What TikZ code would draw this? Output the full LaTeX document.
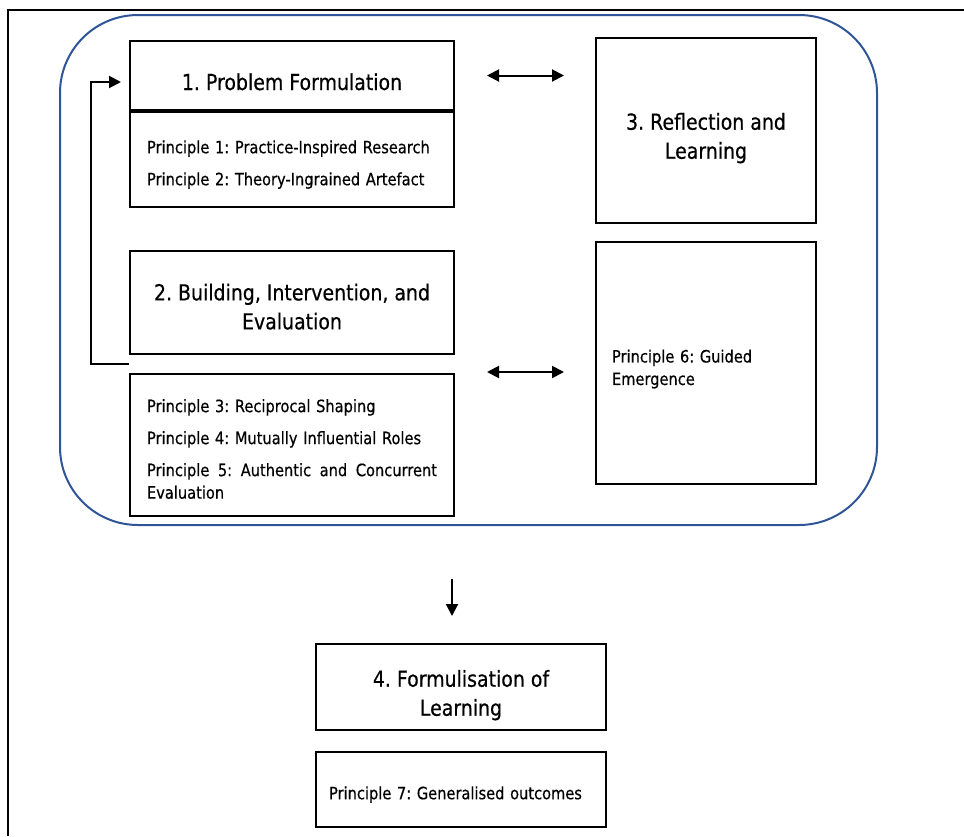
\documentclass[tikz,border=0pt]{standalone}
\usepackage{fontspec}
\setmainfont{DejaVu Sans}[FakeStretch=0.86,FakeBold=0.5]
\usetikzlibrary{arrows.meta,calc}
\definecolor{cycleblue}{RGB}{47,85,151}
\newcommand\hdrfont{\fontsize{22}{29}\selectfont}
\newcommand\prinfont{\fontsize{17}{22.5}\selectfont}
% invisible strut that raises the first line of a box
\newcommand\padtop[1]{\rule{0pt}{#1}}
\frenchspacing
\tikzset{
  frame/.style={line width=2.2pt},
  stage/.style={draw, line width=2pt, inner sep=0pt, font=\hdrfont, align=center},
  prin/.style={draw, line width=2pt, inner sep=0pt, font=\prinfont, align=left},
  flow/.style={line width=2pt, -{Triangle[length=12pt,width=12pt]}},
  both/.style={line width=2pt, {Triangle[length=12pt,width=12pt]}-{Triangle[length=12pt,width=12pt]}},
}
\begin{document}
\begin{tikzpicture}[x=1pt,y=-1pt]
\useasboundingbox (0,0) rectangle (964,836);

% page border
\draw[frame] (8,836) -- (8,10) -- (964,10);

% iterative cycle
\node[draw=cycleblue, line width=2pt, rounded corners=78pt,
      minimum width=817pt, minimum height=510pt] (cycle) at (468.5,270) {};

% stage 1
\node[stage, minimum width=324pt, minimum height=69pt, text height=29pt, text depth=0pt]
  (s1) at (292,75.5) {1. Problem Formulation};
\node[prin, minimum width=324pt, minimum height=97pt, text width=290pt]
  (p12) at (292,158.5)
  {\padtop{25pt}Principle 1: Practice-Inspired Research\\[9.5pt]
   Principle 2: Theory-Ingrained Artefact};
\draw[line width=3.5pt] (s1.south west) -- (s1.south east);

% stage 2
\node[stage, minimum width=324pt, minimum height=103pt]
  (s2) at (292,302.5) {\padtop{25pt}2. Building, Intervention, and\\Evaluation};
\node[prin, minimum width=324pt, minimum height=142pt, text width=290pt]
  (p35) at (292,445)
  {\padtop{21pt}Principle 3: Reciprocal Shaping\\[9.5pt]
   Principle 4: Mutually Influential Roles\\[9.5pt]
   \leavevmode\hbox to 290pt{Principle\hfil\ 5:\hfil\ Authentic\hfil\ and\hfil\ Concurrent}\\
   Evaluation};

% stage 3
\node[stage, minimum width=220pt, minimum height=185pt]
  (s3) at (706,130.5) {\padtop{32pt}3. Reflection and\\Learning};
\node[prin, minimum width=220pt, minimum height=242pt, text width=188pt]
  (p6) at (706,363) {\padtop{25pt}Principle 6: Guided\\Emergence};

% stage 4
\node[stage, minimum width=290pt, minimum height=86pt]
  (s4) at (461,687) {\padtop{33pt}4. Formulisation of\\Learning};
\node[prin, minimum width=290pt, minimum height=75pt, text width=264pt]
  (p7) at (461,789.5) {\padtop{23pt}Principle 7: Generalised outcomes};

% feedback from stage 2 to stage 1
\coordinate (back) at ($(s2.south west)!0.5!(p35.north west)$);
\coordinate (s1in) at ([yshift=-6.5pt]s1.west);
\draw[flow, shorten >=8pt] (back) -- ++(-38,0) |- (s1in);

% exchanges with reflection and learning
\draw[both, shorten <=32pt, shorten >=31pt] (s1.east) -- (s1.east -| s3.west);
\coordinate (mid2) at ([yshift=-9pt]p6.west);
\draw[both, shorten <=32pt, shorten >=31pt] (mid2 -| p35.east) -- (mid2);

% towards formalisation of learning
\coordinate (dtop) at ([xshift=-9pt]s4.north);
\draw[flow, shorten <=53pt, shorten >=27pt] (dtop |- cycle.south) -- (dtop);
\end{tikzpicture}
\end{document}
